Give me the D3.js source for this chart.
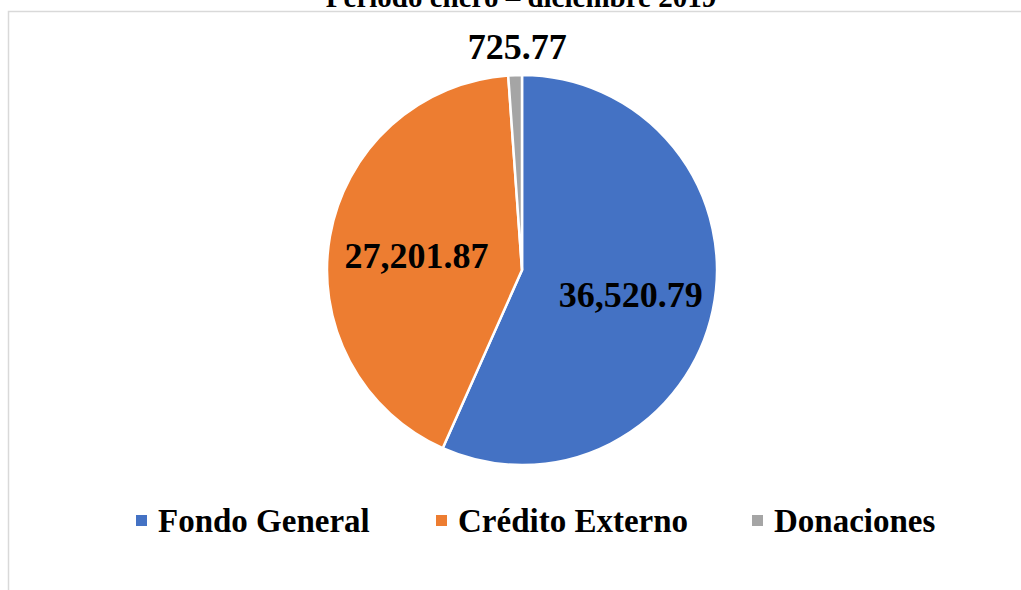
<!DOCTYPE html>
<html><head><meta charset="utf-8">
<script src="https://cdn.jsdelivr.net/npm/d3@7"></script>
<style>html,body{margin:0;padding:0;background:#fff;}svg{display:block;}</style>
</head><body>
<svg id="c" width="1021" height="590"></svg>
<script>
const categories = ["Fondo General", "Crédito Externo", "Donaciones"];
const values = [36520.79, 27201.87, 725.77];
const labels = ["36,520.79", "27,201.87", "725.77"];
const colors = ["#4472C4", "#ED7D31", "#A5A5A5"];
const title = "Período enero – diciembre 2019";

const svg = d3.select("#c");
const W = 1021, H = 590;
const font = "'Liberation Serif', 'DejaVu Serif', serif";

svg.append("rect").attr("width", W).attr("height", H).attr("fill", "#fff");

// chart area border (cropped)
svg.append("path").attr("d", "M8.5,590 L8.5,11.5 L1021,11.5")
  .attr("fill", "none").attr("stroke", "#d9d9d9").attr("stroke-width", 1.5);

svg.append("text").attr("x", 521).attr("y", 7)
  .attr("text-anchor", "middle").attr("font-family", font)
  .attr("font-weight", "bold").attr("font-size", 29).attr("fill", "#000")
  .text(title);

const cx = 522, cy = 270, r = 195;
const data = categories.map((c, i) => ({ c, v: values[i], l: labels[i], col: colors[i] }));
const pie = d3.pie().value(d => d.v).sort(null);
const arcs = pie(data);
const arc = d3.arc().innerRadius(0).outerRadius(r);
const g = svg.append("g").attr("transform", `translate(${cx},${cy})`);
g.selectAll("path").data(arcs).enter().append("path")
  .attr("d", arc).attr("fill", d => d.data.col)
  .attr("stroke", "#fff").attr("stroke-width", 2.5).attr("stroke-linejoin", "round");

// data labels
const labelArc = d3.arc().innerRadius(r * 0.56).outerRadius(r * 0.56);
const outerArc = d3.arc().innerRadius(r * 1.13).outerRadius(r * 1.13);
const nudge = [[2, 2], [2, 4], [3, -3]];
g.selectAll("text.lbl").data(arcs).enter().append("text")
  .attr("class", "lbl")
  .attr("transform", (d, i) => {
    const p = (i === 2 ? outerArc : labelArc).centroid(d);
    return `translate(${p[0] + nudge[i][0]},${p[1] + nudge[i][1]})`;
  })
  .attr("text-anchor", "middle").attr("dy", "0.35em")
  .attr("font-family", font).attr("font-weight", "bold").attr("font-size", 36)
  .attr("fill", "#000")
  .text(d => d.data.l);

// legend
const legendX = [136, 436, 752];
const lg = svg.append("g");
data.forEach((d, i) => {
  lg.append("rect").attr("x", legendX[i]).attr("y", 515).attr("width", 11).attr("height", 11).attr("fill", d.col);
  lg.append("text").attr("x", legendX[i] + 22).attr("y", 532)
    .attr("font-family", font).attr("font-weight", "bold").attr("font-size", 33)
    .attr("fill", "#000").text(d.c);
});
</script>
</body></html>
